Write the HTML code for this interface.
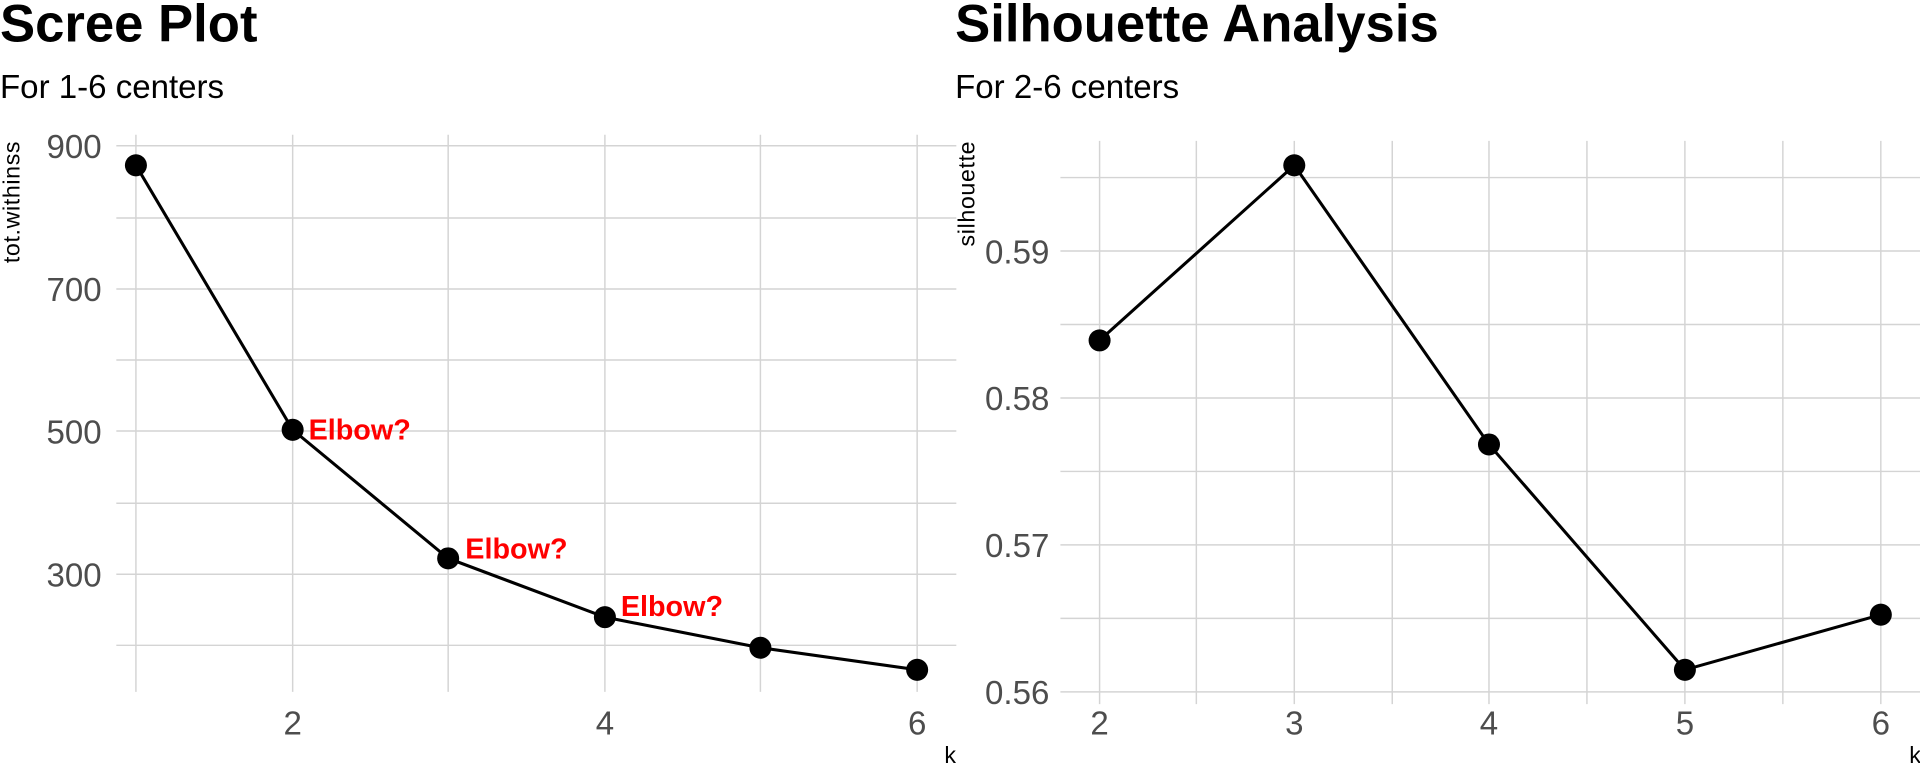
<!DOCTYPE html>
<html><head><meta charset="utf-8"><style>
html,body{margin:0;padding:0;background:#fff;}
svg{display:block;font-family:"Liberation Sans",sans-serif;}
</style></head><body>
<svg width="1920" height="768" viewBox="0 0 1568 627.2" xmlns="http://www.w3.org/2000/svg">
<rect width="1568" height="627.2" fill="#fff"/>
<text x="0" y="34" font-size="43" font-weight="bold" fill="#000">Scree Plot</text>
<text x="0" y="80" font-size="27" fill="#000">For 1-6 centers</text>
<g stroke="#d4d4d4" stroke-width="1.2">
<line x1="95" x2="781" y1="119" y2="119"/><line x1="95" x2="781" y1="178" y2="178"/>
<line x1="95" x2="781" y1="236" y2="236"/><line x1="95" x2="781" y1="294" y2="294"/>
<line x1="95" x2="781" y1="352" y2="352"/><line x1="95" x2="781" y1="411" y2="411"/>
<line x1="95" x2="781" y1="469" y2="469"/><line x1="95" x2="781" y1="527" y2="527"/>
<line x1="111" x2="111" y1="110" y2="565"/><line x1="239" x2="239" y1="110" y2="565"/>
<line x1="366" x2="366" y1="110" y2="565"/><line x1="494" x2="494" y1="110" y2="565"/>
<line x1="621" x2="621" y1="110" y2="565"/><line x1="749" x2="749" y1="110" y2="565"/>
</g>
<g font-size="27" fill="#4d4d4d" text-anchor="end">
<text x="83" y="129">900</text><text x="83" y="246">700</text>
<text x="83" y="362">500</text><text x="83" y="479">300</text>
</g>
<g font-size="27" fill="#4d4d4d" text-anchor="middle">
<text x="239" y="600">2</text><text x="494" y="600">4</text><text x="749" y="600">6</text>
</g>
<text x="776" y="623" font-size="19" fill="#000" text-anchor="middle">k</text>
<text transform="translate(16,115) rotate(-90)" font-size="19" letter-spacing="0.5" fill="#000" text-anchor="end">tot.withinss</text>
<polyline points="111,135 239,351 366,456 494,504 621,529 749,547" fill="none" stroke="#000" stroke-width="2.5"/>
<g fill="#000">
<circle cx="111" cy="135" r="9"/><circle cx="239" cy="351" r="9"/><circle cx="366" cy="456" r="9"/>
<circle cx="494" cy="504" r="9"/><circle cx="621" cy="529" r="9"/><circle cx="749" cy="547" r="9"/>
</g>
<g font-size="23.5" font-weight="bold" fill="#ff0000">
<text x="252" y="359">Elbow?</text><text x="380" y="456">Elbow?</text><text x="507" y="503">Elbow?</text>
</g>
<text x="780" y="34" font-size="43" font-weight="bold" fill="#000">Silhouette Analysis</text>
<text x="780" y="80" font-size="27" fill="#000">For 2-6 centers</text>
<g stroke="#d4d4d4" stroke-width="1.2">
<line x1="866" x2="1568" y1="145" y2="145"/><line x1="866" x2="1568" y1="205" y2="205"/>
<line x1="866" x2="1568" y1="265" y2="265"/><line x1="866" x2="1568" y1="325" y2="325"/>
<line x1="866" x2="1568" y1="385" y2="385"/><line x1="866" x2="1568" y1="445" y2="445"/>
<line x1="866" x2="1568" y1="505" y2="505"/><line x1="866" x2="1568" y1="565" y2="565"/>
<line x1="898" x2="898" y1="115" y2="575"/><line x1="977" x2="977" y1="115" y2="575"/>
<line x1="1057" x2="1057" y1="115" y2="575"/><line x1="1137" x2="1137" y1="115" y2="575"/>
<line x1="1216" x2="1216" y1="115" y2="575"/><line x1="1296" x2="1296" y1="115" y2="575"/>
<line x1="1376" x2="1376" y1="115" y2="575"/><line x1="1456" x2="1456" y1="115" y2="575"/>
<line x1="1536" x2="1536" y1="115" y2="575"/>
</g>
<g font-size="27" fill="#4d4d4d" text-anchor="end">
<text x="857" y="215">0.59</text><text x="857" y="335">0.58</text>
<text x="857" y="455">0.57</text><text x="857" y="575">0.56</text>
</g>
<g font-size="27" fill="#4d4d4d" text-anchor="middle">
<text x="898" y="600">2</text><text x="1057" y="600">3</text><text x="1216" y="600">4</text>
<text x="1376" y="600">5</text><text x="1536" y="600">6</text>
</g>
<text x="1564" y="623" font-size="19" fill="#000" text-anchor="middle">k</text>
<text transform="translate(796,115) rotate(-90)" font-size="19" letter-spacing="0.5" fill="#000" text-anchor="end">silhouette</text>
<polyline points="898,278 1057,135 1216,363 1376,547 1536,502" fill="none" stroke="#000" stroke-width="2.5"/>
<g fill="#000">
<circle cx="898" cy="278" r="9"/><circle cx="1057" cy="135" r="9"/><circle cx="1216" cy="363" r="9"/>
<circle cx="1376" cy="547" r="9"/><circle cx="1536" cy="502" r="9"/>
</g>
</svg>
</body></html>
